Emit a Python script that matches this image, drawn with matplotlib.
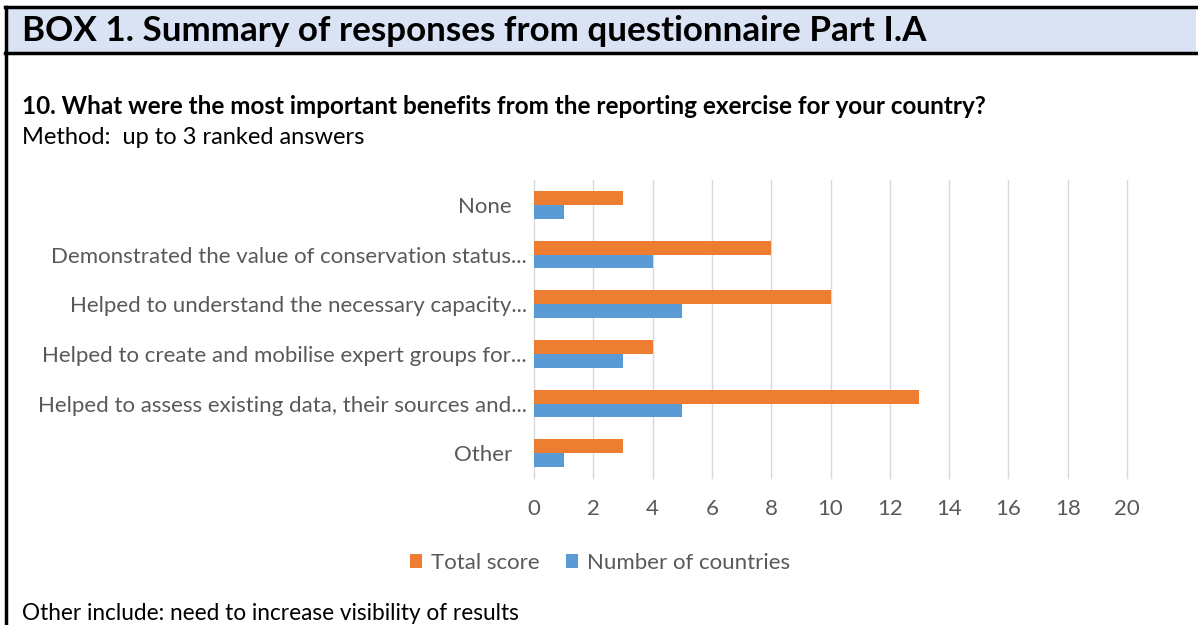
import numpy as np
import matplotlib.pyplot as plt
from matplotlib.lines import Line2D
from matplotlib.patches import Rectangle

W, H = 1198, 625          # figure size in pixels
DPI = 100

categories = [
    "None",
    "Demonstrated the value of conservation status...",
    "Helped to understand the necessary capacity...",
    "Helped to create and mobilise expert groups for...",
    "Helped to assess existing data, their sources and...",
    "Other",
]
total_score = [3, 8, 10, 4, 13, 3]
n_countries = [1, 4, 5, 3, 5, 1]

xticks = [0, 2, 4, 6, 8, 10, 12, 14, 16, 18, 20]

ORANGE = "#ED7D31"
BLUE = "#5B9BD5"
GREY = "#595959"
FONT = "Lato"


def fx(px):
    return px / W


def fy(py):
    return 1 - py / H


fig = plt.figure(figsize=(W / DPI, H / DPI), dpi=DPI)

# header band and box frame
fig.add_artist(Rectangle((fx(6), fy(53)), fx(1196) - fx(6), fy(7) - fy(53),
                         facecolor="#dae3f3", edgecolor="none"))
fig.add_artist(Line2D([fx(5), fx(1198)], [fy(7), fy(7)], color="black", lw=2.5))
fig.add_artist(Line2D([fx(5), fx(1198)], [fy(53), fy(53)], color="black", lw=2.5))
fig.add_artist(Line2D([fx(6), fx(6)], [fy(7), fy(H + 5)], color="black", lw=2.5))

fig.text(fx(22), fy(31), "BOX 1. Summary of responses from questionnaire Part I.A",
         family=FONT, weight="bold", fontsize=25.2, va="center", ha="left")
fig.text(fx(22), fy(106), "10. What were the most important benefits from the reporting exercise for your country?",
         family=FONT, weight="bold", fontsize=17.5, va="center", ha="left")
fig.text(fx(22), fy(137), "Method:  up to 3 ranked answers",
         family=FONT, fontsize=17, va="center", ha="left")
fig.text(fx(22), fy(613), "Other include: need to increase visibility of results",
         family=FONT, fontsize=16.3, va="center", ha="left")

# bar chart
ax = fig.add_axes([fx(534), fy(478), fx(1127) - fx(534), fy(180) - fy(478)])
y = np.arange(len(categories))
bh = 0.28
ax.barh(y - bh / 2, total_score, height=bh, color=ORANGE, label="Total score", zorder=3)
ax.barh(y + bh / 2, n_countries, height=bh, color=BLUE, label="Number of countries", zorder=3)

ax.set_xlim(0, 20)
ax.set_ylim(len(categories) - 0.5, -0.5)
ax.set_xticks(xticks)
ax.set_yticks(y)
ax.set_yticklabels(categories)
ax.grid(axis="x", color="#d9d9d9", lw=1, zorder=0)
for gl in ax.get_xgridlines():
    gl.set_clip_on(False)
for s in ax.spines.values():
    s.set_visible(False)
ax.tick_params(axis="both", length=0, labelcolor=GREY, labelsize=16)
ax.tick_params(axis="x", pad=15)
ax.tick_params(axis="y", pad=5)
for lab in ax.get_xticklabels() + ax.get_yticklabels():
    lab.set_family(FONT)
# short labels sit a bit further from the axis
ticks = ax.yaxis.get_major_ticks()
for i in (0, len(categories) - 1):
    ticks[i].set_pad(16)

leg = fig.legend(loc="center", bbox_to_anchor=(fx(600), fy(563)), ncol=2, frameon=False,
                 prop={"family": FONT, "size": 16}, handlelength=0.55, handleheight=0.55,
                 handletextpad=0.4, columnspacing=1.2)
for t in leg.get_texts():
    t.set_color(GREY)

fig.savefig("out.png", dpi=DPI)
